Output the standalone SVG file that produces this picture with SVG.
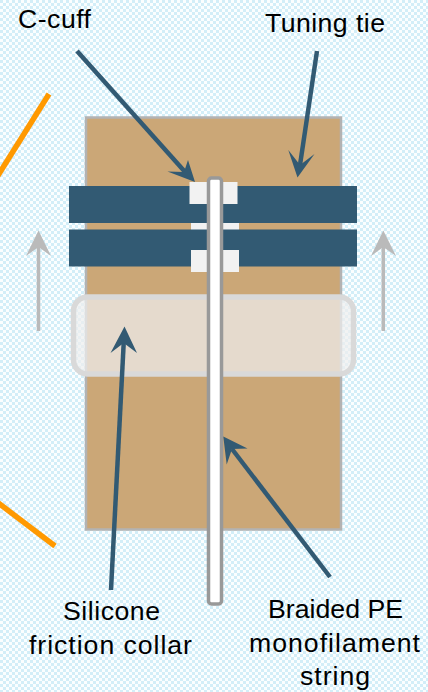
<svg xmlns="http://www.w3.org/2000/svg" width="428" height="692" viewBox="0 0 428 692">
<style>
text{font-family:"Liberation Sans",Arial,sans-serif;font-size:26.67px;fill:#000;text-anchor:middle}
.cuff{fill:#f2f2f2}
.bar{fill:#325a73}
.lead{stroke:#325a73;stroke-width:4.5;fill:none}
.head{fill:#325a73}
.move{stroke:#bababa;stroke-width:3.5;fill:none}
.movehead{fill:#bababa}
.orange{stroke:#ff9900;stroke-width:5.5;fill:none}
</style>
<defs>
<pattern id="bg" width="6" height="6" patternUnits="userSpaceOnUse">
<rect width="6" height="6" fill="#fbfeff"/>
<rect x="0" y="0" width="3" height="3" fill="#d3eef8"/>
<rect x="3" y="3" width="3" height="3" fill="#d3eef8"/>
</pattern>
</defs>
<rect id="background" width="428" height="692" fill="url(#bg)"/>
<g id="guides">
<path class="orange" d="M49 94L-3 177"/>
<path class="orange" d="M-3 502L55 546"/>
</g>
<g id="body"><rect x="86" y="117.500" width="255" height="412" fill="#cba777" stroke="#b3b3b3" stroke-width="2.500"/></g>
<g id="c-cuff-back"><rect class="cuff" x="191" y="204" width="48" height="48"/></g>
<g id="tuning-tie">
<rect class="bar" x="69" y="186" width="288" height="37"/>
<rect class="bar" x="69" y="229.500" width="288" height="37"/>
</g>
<g id="c-cuff">
<rect class="cuff" x="189.500" y="182" width="48" height="22"/>
<rect class="cuff" x="191" y="250" width="48" height="22"/>
</g>
<g id="collar"><rect x="73.500" y="297" width="280" height="77" rx="14" fill="#eeeeee" fill-opacity="0.72" stroke="#d9d9d9" stroke-width="5.500"/></g>
<g id="string"><rect x="208.500" y="178" width="13" height="426" rx="3" fill="#fff" stroke="#999" stroke-width="3.500"/></g>
<g id="connectors">
<path class="lead" d="M77 51L186 173"/>
<path class="head" d="M195 182L167.500 171.500L184 172L188 160Z"/>
<path class="lead" d="M317 51L300 165"/>
<path class="head" d="M297.500 177.500L288.300 150L300 165L314.500 154Z"/>
<path class="lead" d="M111 590L123.700 343"/>
<path class="head" d="M124.500 326.500L110.500 353L123.700 343L137 353Z"/>
<path class="lead" d="M330 577L232 449"/>
<path class="head" d="M223.300 436.500L247.500 448.500L232 449L226.700 464.500Z"/>
<path class="move" d="M383.300 331V247"/>
<path class="movehead" d="M383.300 230.500L371 256L383.300 247L396 256Z"/>
<path class="move" d="M38.500 331V247"/>
<path class="movehead" d="M38.500 230.500L26 256L38.500 247L51 256Z"/>
</g>
<g id="labels">
<text x="54.500" y="28" textLength="73">C-cuff</text>
<text x="325" y="32" textLength="120">Tuning tie</text>
<text x="111.500" y="620" textLength="97">Silicone</text>
<text x="110.500" y="654" textLength="163">friction collar</text>
<text x="335.500" y="618" textLength="135">Braided PE</text>
<text x="334.500" y="652" textLength="171">monofilament</text>
<text x="335" y="685" textLength="70">string</text>
</g>
</svg>
